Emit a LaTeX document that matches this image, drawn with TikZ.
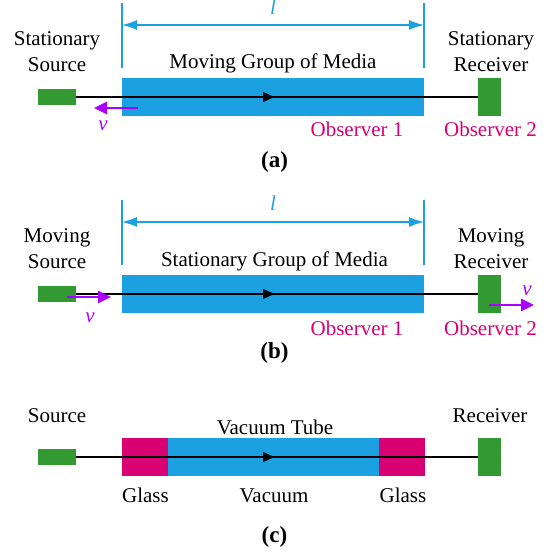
\documentclass[tikz,border=0pt]{standalone}
\usepackage{fontspec}
\setmainfont{Liberation Serif}
\usetikzlibrary{arrows.meta}
\definecolor{mblue}{HTML}{1BA1E2}
\definecolor{rgreen}{HTML}{339933}
\definecolor{gmag}{HTML}{D80073}
\definecolor{vpurple}{HTML}{AA00FF}
\tikzset{
  lbl/.style={font=\fontsize{21}{26}\selectfont, inner sep=0pt, outer sep=0pt, align=center},
  obs/.style={lbl, text=gmag},
  capt/.style={inner sep=0pt, font=\fontsize{23}{27}\selectfont\bfseries},
  vlbl/.style={lbl, text=vpurple, font=\fontsize{21}{26}\selectfont\itshape},
  llbl/.style={lbl, text=mblue, font=\fontsize{21}{26}\selectfont\itshape},
  blockbase/.style={draw=none, inner sep=0pt, outer sep=0pt},
  srcbox/.style={blockbase, fill=rgreen, minimum width=38pt, minimum height=16pt},
  rcvbox/.style={blockbase, fill=rgreen, minimum width=23pt, minimum height=38pt},
  mediabox/.style={blockbase, fill=mblue, minimum height=38pt},
  glassbox/.style={blockbase, fill=gmag, minimum height=38pt},
  ray/.style={draw=black, line width=2.2pt},
  raytip/.style={ray, -{Latex[length=13pt,width=11pt]}},
  dim/.style={draw=mblue, line width=1.4pt},
  dimtip/.style={dim, -{Latex[length=15pt,width=10pt]}},
  vel/.style={draw=vpurple, line width=2.6pt, -{Triangle[length=13pt,width=12pt]}},
}
\begin{document}
\begin{tikzpicture}[x=1pt,y=-1pt]
\useasboundingbox (0,0) rectangle (553,553);

% ---------------- (a) ----------------
\node[srcbox] (srcA) at (57,97) {};
\node[mediabox, minimum width=302pt] (medA) at (273,97) {};
\node[rcvbox] (rcvA) at (489.5,97) {};
\coordinate (midA) at (276,97);
\draw[ray] (srcA.east) -- (rcvA.west);
\draw[raytip] (srcA.east) -- (midA);

\draw[dim] (medA.north west) ++(0,-10) -- ++(0,-65);
\draw[dim] (medA.north east) ++(0,-10) -- ++(0,-65);
\coordinate (dimAL) at (122,25);
\coordinate (dimAR) at (424,25);
\coordinate (dimAM) at (273,25);
\draw[dimtip] (dimAM) -- (dimAL);
\draw[dimtip] (dimAM) -- (dimAR);
\node[llbl, anchor=base] (lA) at (273,15) {l};

\node[lbl] (tSrcA) at (57,52) {Stationary\\Source};
\node[lbl] (tRcvA) at (491,52) {Stationary\\Receiver};
\node[lbl, anchor=base] (tMedA) at (273,69) {Moving Group of Media};

\coordinate (vA1) at (138,108);
\coordinate (vA2) at (94,108);
\draw[vel] (vA1) -- (vA2);
\node[vlbl, anchor=base] (vlA) at (103,131) {v};

\node[obs, anchor=base] (o1A) at (357,137) {Observer 1};
\node[obs, anchor=base] (o2A) at (490.5,137) {Observer 2};
\node[capt, anchor=base] (capA) at (274.5,168) {(a)};

% ---------------- (b) ----------------
\node[srcbox] (srcB) at (57,294) {};
\node[mediabox, minimum width=302pt] (medB) at (273,294) {};
\node[rcvbox] (rcvB) at (489.5,294) {};
\coordinate (midB) at (276,294);
\draw[ray] (srcB.east) -- (rcvB.west);
\draw[raytip] (srcB.east) -- (midB);

\draw[dim] (medB.north west) ++(0,-10) -- ++(0,-65);
\draw[dim] (medB.north east) ++(0,-10) -- ++(0,-65);
\coordinate (dimBL) at (122,222);
\coordinate (dimBR) at (424,222);
\coordinate (dimBM) at (273,222);
\draw[dimtip] (dimBM) -- (dimBL);
\draw[dimtip] (dimBM) -- (dimBR);
\node[llbl, anchor=base] (lB) at (273,211) {l};

\node[lbl] (tSrcB) at (57,249) {Moving\\Source};
\node[lbl] (tRcvB) at (491,249) {Moving\\Receiver};
\node[lbl, anchor=base] (tMedB) at (274.5,266) {Stationary Group of Media};

\coordinate (vB1) at (67,297);
\coordinate (vB2) at (111,297);
\draw[vel] (vB1) -- (vB2);
\node[vlbl, anchor=base] (vlB) at (90,322) {v};

\coordinate (vC1) at (489,305);
\coordinate (vC2) at (534,305);
\draw[vel] (vC1) -- (vC2);
\node[vlbl, anchor=base] (vlC) at (527,295) {v};

\node[obs, anchor=base] (o1B) at (357,335) {Observer 1};
\node[obs, anchor=base] (o2B) at (490.5,335) {Observer 2};
\node[capt, anchor=base] (capB) at (274.5,358) {(b)};

% ---------------- (c) ----------------
\node[srcbox] (srcC) at (57,457) {};
\node[glassbox, minimum width=45.7pt] (glL) at (144.85,457) {};
\node[mediabox, minimum width=211.3pt] (vac) at (273.35,457) {};
\node[glassbox, minimum width=46pt] (glR) at (402,457) {};
\node[rcvbox] (rcvC) at (489.5,457) {};
\coordinate (midC) at (276,457);
\draw[ray] (srcC.east) -- (rcvC.west);
\draw[raytip] (srcC.east) -- (midC);

\node[lbl, anchor=base] (tSrcC) at (57,422) {Source};
\node[lbl, anchor=base] (tRcvC) at (490,422) {Receiver};
\node[lbl, anchor=base] (tTube) at (275,434) {Vacuum Tube};
\node[lbl, anchor=base] (tGlL) at (145.5,502) {Glass};
\node[lbl, anchor=base] (tVac) at (274,502) {Vacuum};
\node[lbl, anchor=base] (tGlR) at (403,502) {Glass};
\node[capt, anchor=base] (capC) at (274.5,542) {(c)};
\end{tikzpicture}
\end{document}
